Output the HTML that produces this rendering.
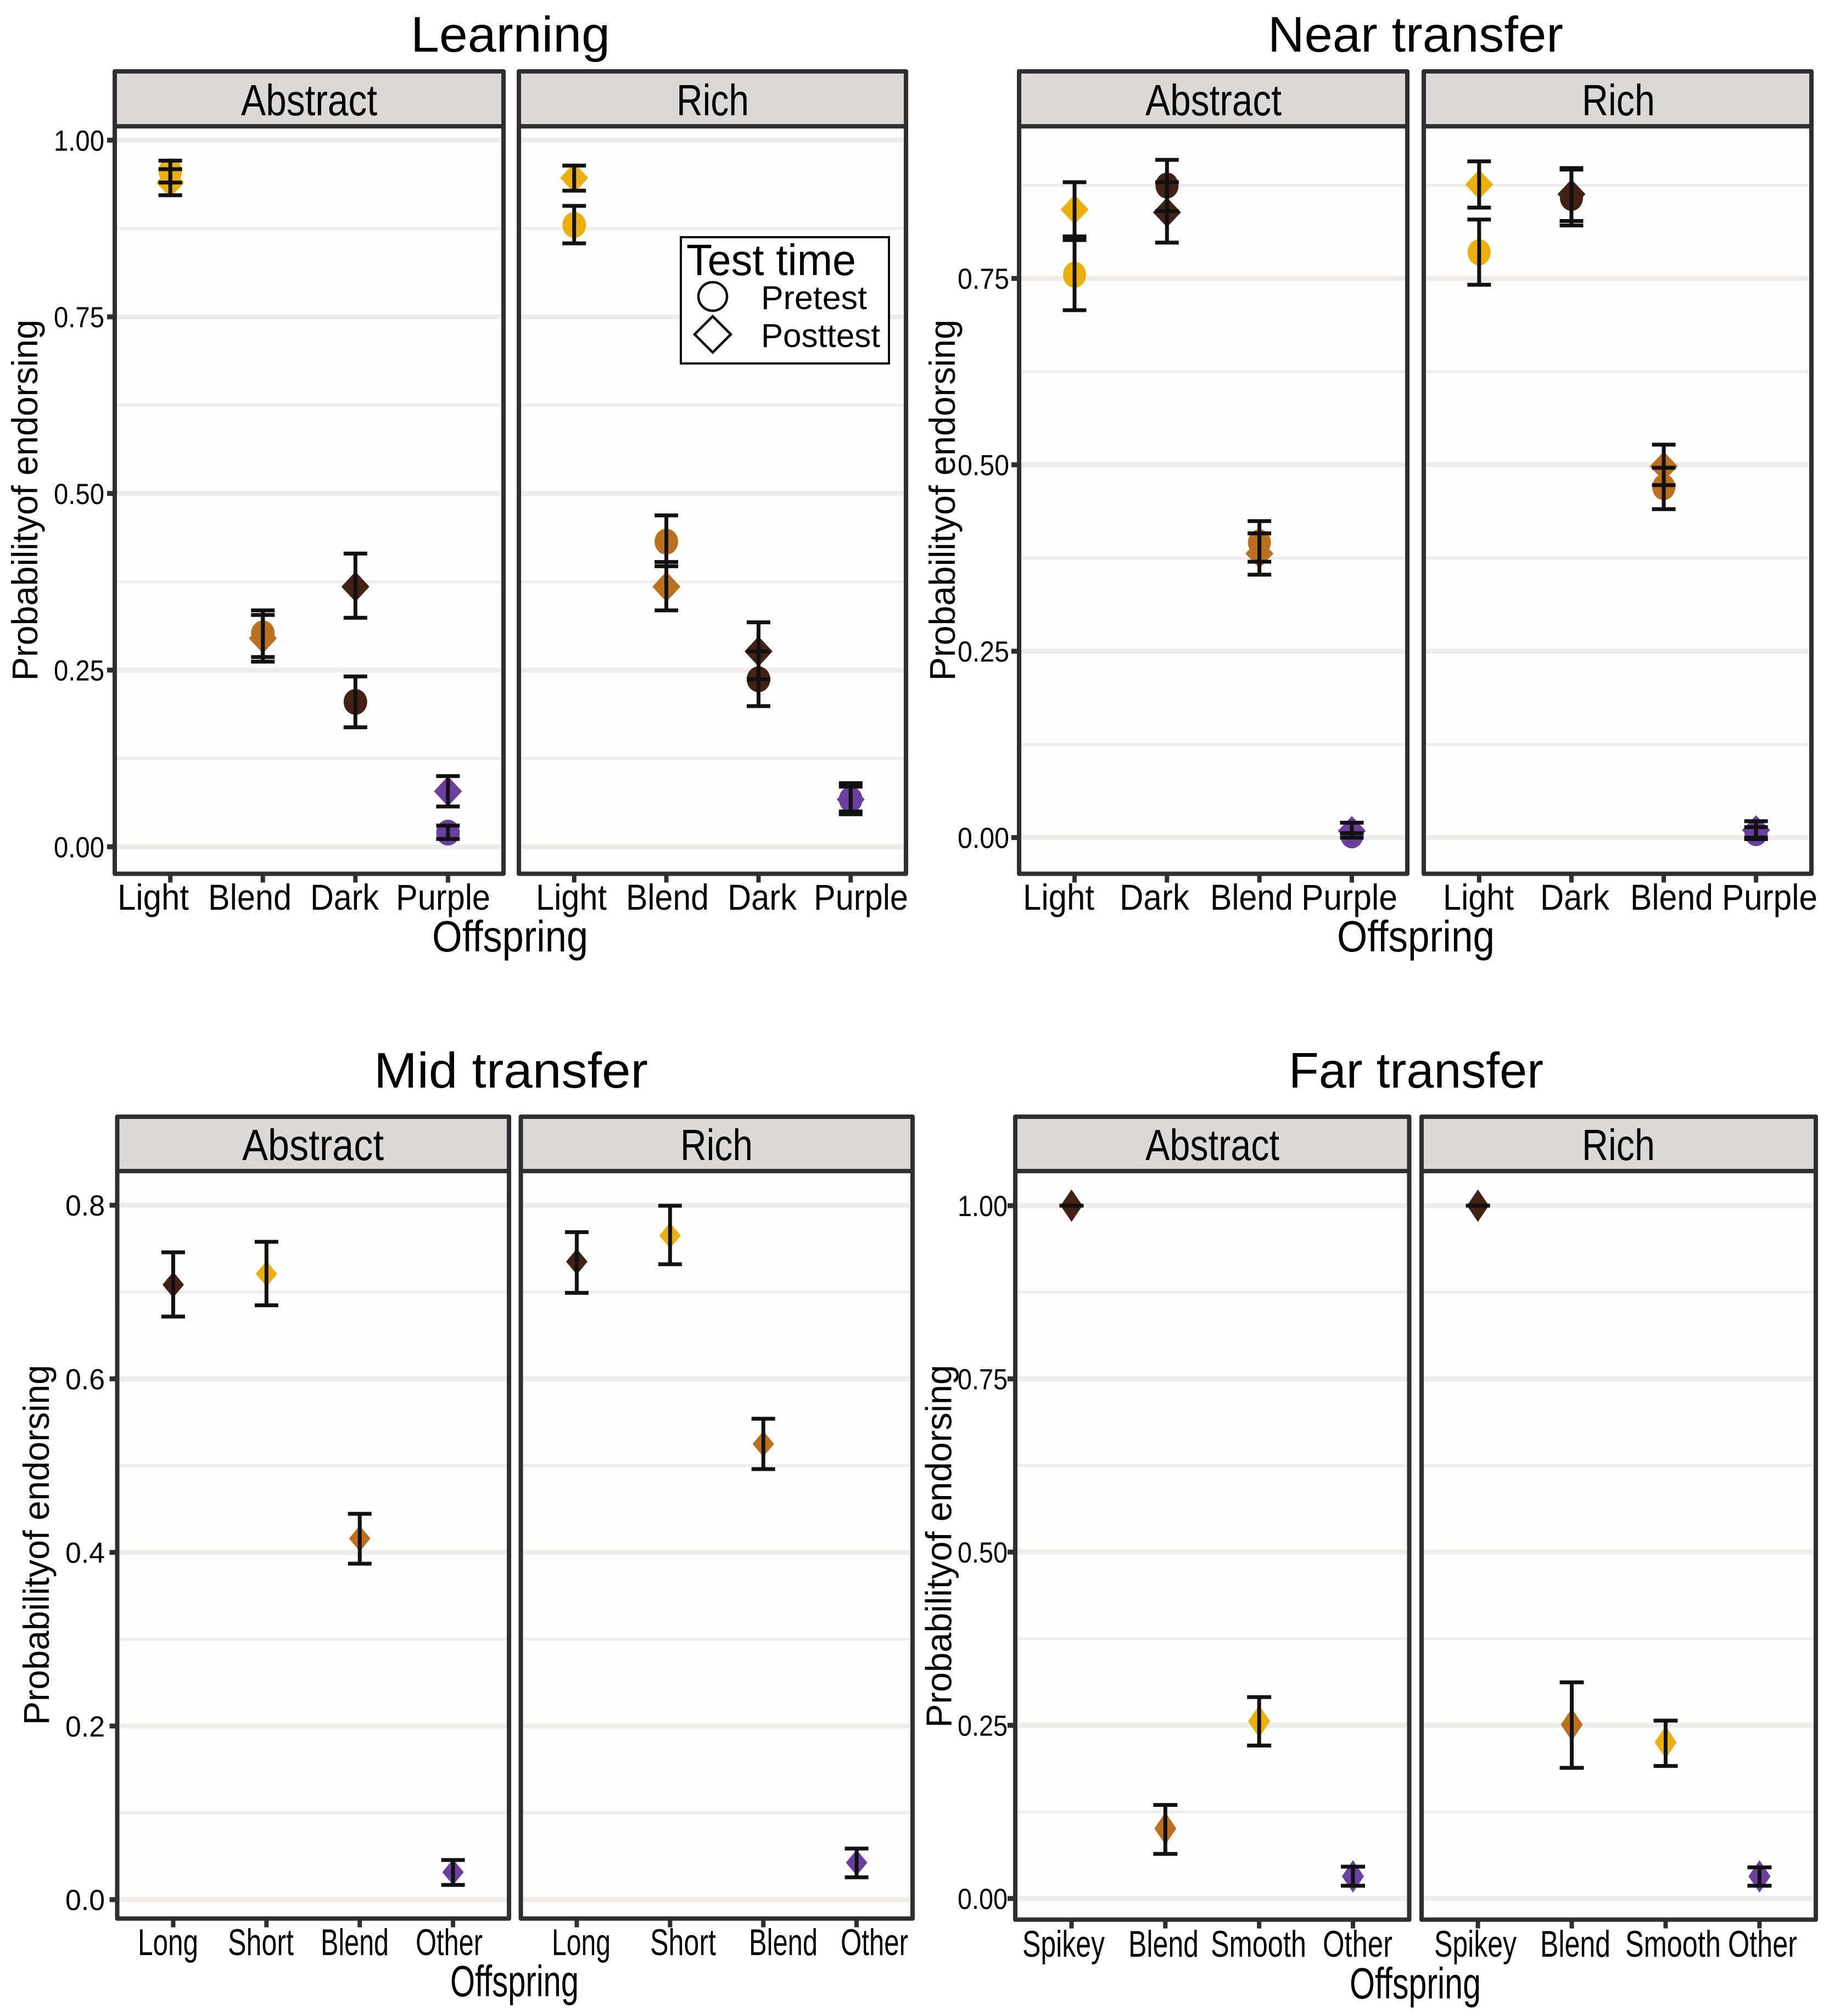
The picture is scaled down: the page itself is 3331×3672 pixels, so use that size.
<!DOCTYPE html>
<html lang="en">
<head>
<meta charset="utf-8">
<title>Probability of endorsing by offspring</title>
<style>
html,body{margin:0;padding:0;background:#fff;}
svg{display:block;font-family:"Liberation Sans",sans-serif;}
text{fill:#000;}
</style>
</head>
<body>
<svg id="chart" xmlns="http://www.w3.org/2000/svg" width="3331" height="3672" viewBox="0 0 3331 3672">
<rect x="0" y="0" width="3331" height="3672" fill="#ffffff"/>
</svg>
<script>
// ---------- DATA ----------
const learningCategories = ['Light','Blend','Dark','Purple'];
const nearCategories = ['Light','Dark','Blend','Purple'];
const midCategories = ['Long','Short','Blend','Other'];
const farCategories = ['Spikey','Blend','Smooth','Other'];

const learningTicks = [0,0.25,0.5,0.75,1];
const learningTickLabels = ['0.00','0.25','0.50','0.75','1.00'];
const nearTicks = [0,0.25,0.5,0.75];
const nearTickLabels = ['0.00','0.25','0.50','0.75'];
const midTicks = [0,0.2,0.4,0.6,0.8];
const midTickLabels = ['0.0','0.2','0.4','0.6','0.8'];
const farTicks = [0,0.25,0.5,0.75,1];
const farTickLabels = ['0.00','0.25','0.50','0.75','1.00'];

const learningAbstractPreMean = [0.956,0.302,0.205,0.020];
const learningAbstractPreLow  = [0.940,0.2685,0.169,0.011];
const learningAbstractPreHigh = [0.971,0.3345,0.241,0.030];
const learningAbstractPostMean = [0.940,0.295,0.368,0.0785];
const learningAbstractPostLow  = [0.922,0.262,0.324,0.057];
const learningAbstractPostHigh = [0.959,0.328,0.415,0.100];

const learningRichPreMean = [0.880,0.4318,0.237,0.067];
const learningRichPreLow  = [0.854,0.397,0.199,0.046];
const learningRichPreHigh = [0.907,0.469,0.2765,0.090];
const learningRichPostMean = [0.9465,0.368,0.2765,0.067];
const learningRichPostLow  = [0.9286,0.3345,0.237,0.050];
const learningRichPostHigh = [0.964,0.403,0.3176,0.085];

const nearAbstractPreMean = [0.755,0.8745,0.396,0.003];
const nearAbstractPreLow  = [0.7074,0.8404,0.370,0.000];
const nearAbstractPreHigh = [0.8063,0.909,0.4245,0.006];
const nearAbstractPostMean = [0.8424,0.8386,0.381,0.009];
const nearAbstractPostLow  = [0.8014,0.798,0.3526,0.000];
const nearAbstractPostHigh = [0.879,0.879,0.408,0.020];

const nearRichPreMean = [0.785,0.858,0.470,0.006];
const nearRichPreLow  = [0.7415,0.821,0.4405,-0.002];
const nearRichPreHigh = [0.829,0.896,0.496,0.014];
const nearRichPostMean = [0.876,0.863,0.498,0.010];
const nearRichPostLow  = [0.845,0.827,0.4727,0.000];
const nearRichPostHigh = [0.907,0.898,0.527,0.022];

const midAbstractPostMean = [0.7084,0.721,0.416,0.0316];
const midAbstractPostLow  = [0.6717,0.6847,0.387,0.0169];
const midAbstractPostHigh = [0.7457,0.7578,0.4445,0.0456];
const midRichPostMean = [0.735,0.765,0.525,0.0426];
const midRichPostLow  = [0.699,0.732,0.496,0.0257];
const midRichPostHigh = [0.769,0.7994,0.554,0.0588];

const farAbstractPostMean = [1,0.101,0.2557,0.032];
const farAbstractPostLow  = [1,0.0644,0.2208,0.0184];
const farAbstractPostHigh = [1,0.135,0.2907,0.046];
const farRichPostMean = [1,0.251,0.2254,0.032];
const farRichPostLow  = [1,0.1886,0.1913,0.0184];
const farRichPostHigh = [1,0.312,0.2567,0.045];

const categoryColors = {Light:'#ebb00b',Short:'#ebb00b',Smooth:'#ebb00b',Blend:'#ba701c',Dark:'#422214',Long:'#422214',Spikey:'#422214',Purple:'#6b3f9f',Other:'#6b3f9f'};

// ---------- LAYOUT ----------
const plots = [
 {key:'learning', title:'Learning', titleBox:[748,1111], titleBase:94, top:130, strip:230, bottom:1591.5, stripBase:210,
  y0:1542.3, perUnit:1287, ticks:learningTicks, tickLabels:learningTickLabels, tickRight:190, tickWidth:92,
  labelBase:1657, labelSize:66, xTitleBox:[787,1071], xTitleBase:1733, yTitleX:68, yTitleBox:[582,1240],
  rD:[25.5,27.5], rC:[21.5,23.5], cap:21.5,
  panels:[
   {facet:'Abstract', left:209, right:917, stripBox:[439,687], cats:learningCategories,
    labelBoxes:[[214,344],[379,531],[565,690],[721,893]],
    pre:[learningAbstractPreMean,learningAbstractPreLow,learningAbstractPreHigh],
    post:[learningAbstractPostMean,learningAbstractPostLow,learningAbstractPostHigh]},
   {facet:'Rich', left:945, right:1650, stripBox:[1232,1364], cats:learningCategories,
    labelBoxes:[[976,1105],[1140,1291],[1325,1451],[1482,1654]],
    pre:[learningRichPreMean,learningRichPreLow,learningRichPreHigh],
    post:[learningRichPostMean,learningRichPostLow,learningRichPostHigh]}
  ]},
 {key:'near', title:'Near transfer', titleBox:[2309,2847], titleBase:94, top:130, strip:230, bottom:1591.5, stripBase:210,
  y0:1525.6, perUnit:1358, ticks:nearTicks, tickLabels:nearTickLabels, tickRight:1838, tickWidth:94,
  labelBase:1657, labelSize:66, xTitleBox:[2435,2722], xTitleBase:1733, yTitleX:1739, yTitleBox:[582,1240],
  rD:[25.5,27], rC:[21,23.7], cap:21.5,
  panels:[
   {facet:'Abstract', left:1856, right:2563, stripBox:[2086,2334], cats:nearCategories,
    labelBoxes:[[1863,1993],[2039,2166],[2204,2355],[2370,2545]],
    pre:[nearAbstractPreMean,nearAbstractPreLow,nearAbstractPreHigh],
    post:[nearAbstractPostMean,nearAbstractPostLow,nearAbstractPostHigh]},
   {facet:'Rich', left:2593, right:3299, stripBox:[2881,3014], cats:nearCategories,
    labelBoxes:[[2628,2757],[2805,2931],[2969,3120],[3136,3310]],
    pre:[nearRichPreMean,nearRichPreLow,nearRichPreHigh],
    post:[nearRichPostMean,nearRichPostLow,nearRichPostHigh]}
  ]},
 {key:'mid', title:'Mid transfer', titleBox:[681,1180], titleBase:1981, top:2034, strip:2133, bottom:3494.5, stripBase:2113,
  y0:3460, perUnit:1581, ticks:midTicks, tickLabels:midTickLabels, tickRight:191, tickWidth:72,
  labelBase:3561, labelSize:68, xTitleBox:[820,1054], xTitleBase:3636, yTitleX:89, yTitleBox:[2486,3142],
  rD:[19.5,23.5], rC:[20,23], cap:21.5,
  panels:[
   {facet:'Abstract', left:213.5, right:927, stripBox:[441,699], cats:midCategories,
    labelBoxes:[[251,361],[415,535],[584,708],[757,879]], pre:null,
    post:[midAbstractPostMean,midAbstractPostLow,midAbstractPostHigh]},
   {facet:'Rich', left:948.5, right:1662, stripBox:[1239,1371], cats:midCategories,
    labelBoxes:[[1005,1112],[1184,1304],[1364,1489],[1531,1654]], pre:null,
    post:[midRichPostMean,midRichPostLow,midRichPostHigh]}
  ]},
 {key:'far', title:'Far transfer', titleBox:[2347,2811], titleBase:1981, top:2034, strip:2133, bottom:3496.5, stripBase:2113,
  y0:3458, perUnit:1262, ticks:farTicks, tickLabels:farTickLabels, tickRight:1835, tickWidth:91,
  labelBase:3564, labelSize:68, xTitleBox:[2458,2697], xTitleBase:3640, yTitleX:1732.5, yTitleBox:[2486,3147],
  rD:[20,29.5], rC:[20,23], cap:22,
  panels:[
   {facet:'Abstract', left:1849, right:2566.5, stripBox:[2086,2330], cats:farCategories,
    labelBoxes:[[1862,2012],[2055,2183],[2205,2379],[2409,2536]], pre:null,
    post:[farAbstractPostMean,farAbstractPostLow,farAbstractPostHigh]},
   {facet:'Rich', left:2589, right:3307, stripBox:[2881,3014], cats:farCategories,
    labelBoxes:[[2612,2762],[2805,2933],[2960,3134],[3147,3273]], pre:null,
    post:[farRichPostMean,farRichPostLow,farRichPostHigh]}
  ]}
];

const NS = 'http://www.w3.org/2000/svg';
const root = document.getElementById('chart');

function make(tag, parent, name, attrs) {
  const el = document.createElementNS(NS, tag);
  
  
  for (const k in attrs) el.setAttribute(k, attrs[k]);
  parent.appendChild(el);
  return el;
}
function label(parent, name, str, x0, x1, base, size, fill) {
  const t = make('text', parent, name, {x:x0, y:base, 'font-size':size, textLength:x1-x0, lengthAdjust:'spacingAndGlyphs', fill:fill||'#000'});
  t.textContent = str;
  return t;
}
function hline(parent, name, x1, x2, y, w, c) {
  return make('line', parent, name, {x1:x1, x2:x2, y1:y, y2:y, stroke:c, 'stroke-width':w});
}
function vline(parent, name, x, y1, y2, w, c) {
  return make('line', parent, name, {x1:x, x2:x, y1:y1, y2:y2, stroke:c, 'stroke-width':w});
}

const BORDER = '#2f2f31', GRID = '#edecea', ERR = '#111111';

plots.forEach(function (plot) {
  const g = make('g', root, plot.key + '-plot', {});
  label(g, plot.key + '-title', plot.title, plot.titleBox[0], plot.titleBox[1], plot.titleBase, 91);
  const yScale = function (v) { return plot.y0 - v * plot.perUnit; };
  const step = plot.ticks[1] - plot.ticks[0];

  plot.panels.forEach(function (panel, pi) {
    const facetKey = plot.key + '-' + panel.facet.toLowerCase();
    const pg = make('g', g, facetKey + '-panel', {});
    const xScale = function (i) { return panel.left + (i + 0.6) * (panel.right - panel.left) / 4.2; };

    make('rect', pg, facetKey + '-panel-background', {x:panel.left, y:plot.strip, width:panel.right-panel.left, height:plot.bottom-plot.strip, fill:'#fefefe'});

    // gridlines
    plot.ticks.forEach(function (t) {
      hline(pg, facetKey + '-major-gridline', panel.left, panel.right, yScale(t), 9, GRID);
      const my = yScale(t + step / 2);
      if (my > plot.strip + 5) hline(pg, facetKey + '-minor-gridline', panel.left, panel.right, my, 5, GRID);
    });

    // points
    panel.cats.forEach(function (cat, i) {
      const cx = xScale(i), col = categoryColors[cat];
      if (panel.pre) {
        make('ellipse', pg, facetKey + '-pretest-point-' + cat.toLowerCase(), {cx:cx, cy:yScale(panel.pre[0][i]), rx:plot.rC[0], ry:plot.rC[1], fill:col});
      }
      const cy = yScale(panel.post[0][i]);
      const w = plot.rD[0], h = plot.rD[1];
      make('polygon', pg, facetKey + '-posttest-point-' + cat.toLowerCase(), {points:(cx-w)+','+cy+' '+cx+','+(cy-h)+' '+(cx+w)+','+cy+' '+cx+','+(cy+h), fill:col});
    });

    // error bars
    panel.cats.forEach(function (cat, i) {
      const cx = xScale(i);
      [panel.pre, panel.post].forEach(function (s, si) {
        if (!s) return;
        const nm = facetKey + (si === 0 ? '-pretest' : '-posttest') + '-errorbar-' + cat.toLowerCase();
        const eg = make('g', pg, nm, {});
        const yl = yScale(s[1][i]), yh = yScale(s[2][i]);
        vline(eg, nm + '-stem', cx, yh, yl, 7, ERR);
        hline(eg, nm + '-cap-high', cx - plot.cap, cx + plot.cap, yh, 7, ERR);
        hline(eg, nm + '-cap-low', cx - plot.cap, cx + plot.cap, yl, 7, ERR);
      });
    });

    // strip + border
    make('rect', pg, facetKey + '-strip', {x:panel.left, y:plot.top, width:panel.right-panel.left, height:plot.strip-plot.top, fill:'#dad9d7', stroke:BORDER, 'stroke-width':8, 'stroke-linejoin':'round'});
    make('rect', pg, facetKey + '-panel-border', {x:panel.left, y:plot.strip, width:panel.right-panel.left, height:plot.bottom-plot.strip, fill:'none', stroke:BORDER, 'stroke-width':8, 'stroke-linejoin':'round'});
    label(pg, facetKey + '-strip-label', panel.facet, panel.stripBox[0], panel.stripBox[1], plot.stripBase, 80, '#1a1a1a');

    // x ticks + labels
    panel.cats.forEach(function (cat, i) {
      vline(pg, facetKey + '-x-tick', xScale(i), plot.bottom + 4, plot.bottom + 16, 8, BORDER);
      const b = panel.labelBoxes[i];
      label(pg, facetKey + '-x-label-' + cat.toLowerCase(), cat, b[0], b[1], plot.labelBase, plot.labelSize);
    });

    // y ticks + labels (left facet only)
    if (pi === 0) {
      plot.ticks.forEach(function (t, i) {
        hline(pg, plot.key + '-y-tick', panel.left - 14, panel.left - 4, yScale(t), 9, BORDER);
        label(pg, plot.key + '-y-label', plot.tickLabels[i], plot.tickRight - plot.tickWidth, plot.tickRight, yScale(t) + 19, 53);
      });
    }
  });

  label(g, plot.key + '-x-axis-title', 'Offspring', plot.xTitleBox[0], plot.xTitleBox[1], plot.xTitleBase, 80);
  const yt = label(g, plot.key + '-y-axis-title', 'Probabilityof endorsing', plot.yTitleX, plot.yTitleX + plot.yTitleBox[1] - plot.yTitleBox[0], plot.yTitleBox[1], 66);
  yt.setAttribute('x', 0);
  yt.setAttribute('y', 0);
  yt.setAttribute('transform', 'translate(' + plot.yTitleX + ' ' + plot.yTitleBox[1] + ') rotate(-90)');
});
</script>
<svg xmlns="http://www.w3.org/2000/svg" width="3331" height="3672" viewBox="0 0 3331 3672" style="position:absolute;left:0;top:0;">
  <rect x="1240" y="432" width="379" height="230" fill="#ffffff" stroke="#0a0a0a" stroke-width="4"/>
  <text x="1250" y="501" font-size="80" textLength="309" lengthAdjust="spacingAndGlyphs" fill="#111">Test time</text>
  <circle cx="1298" cy="540" r="26" fill="none" stroke="#111" stroke-width="4.5"/>
  <text x="1386" y="563" font-size="60" textLength="193" lengthAdjust="spacingAndGlyphs" fill="#111">Pretest</text>
  <polygon points="1265,609 1298,576 1331,609 1298,642" fill="none" stroke="#111" stroke-width="4.5"/>
  <text x="1386" y="632" font-size="60" textLength="217" lengthAdjust="spacingAndGlyphs" fill="#111">Posttest</text>
</svg>
</body>
</html>
